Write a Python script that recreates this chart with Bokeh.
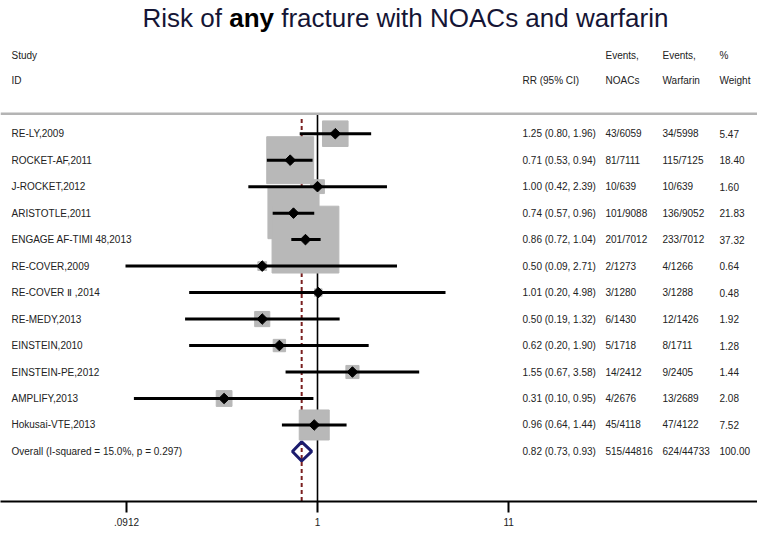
import numpy as np
from bokeh.plotting import figure
from bokeh.models import ColumnDataSource, Range1d, FixedTicker, Span, Label
from bokeh.core.properties import value
from bokeh.embed import file_html
from bokeh.resources import INLINE

# ---------------- data ----------------
studies = ["RE-LY,2009", "ROCKET-AF,2011", "J-ROCKET,2012", "ARISTOTLE,2011",
           "ENGAGE AF-TIMI 48,2013", "RE-COVER,2009", "RE-COVER \u2161 ,2014",
           "RE-MEDY,2013", "EINSTEIN,2010", "EINSTEIN-PE,2012", "AMPLIFY,2013",
           "Hokusai-VTE,2013"]
rr = [1.25, 0.71, 1.00, 0.74, 0.86, 0.50, 1.01, 0.50, 0.62, 1.55, 0.31, 0.96]
rr_lo = [0.80, 0.53, 0.42, 0.57, 0.72, 0.09, 0.20, 0.19, 0.20, 0.67, 0.10, 0.64]
rr_hi = [1.96, 0.94, 2.39, 0.96, 1.04, 2.71, 4.98, 1.32, 1.90, 3.58, 0.95, 1.44]
events_noac = ["43/6059", "81/7111", "10/639", "101/9088", "201/7012", "2/1273",
               "3/1280", "6/1430", "5/1718", "14/2412", "4/2676", "45/4118"]
events_warf = ["34/5998", "115/7125", "10/639", "136/9052", "233/7012", "4/1266",
               "3/1288", "12/1426", "8/1711", "9/2405", "13/2689", "47/4122"]
weights = [5.47, 18.40, 1.60, 21.83, 37.32, 0.64, 0.48, 1.92, 1.28, 1.44, 2.08, 7.52]

overall_label = "Overall  (I-squared = 15.0%, p = 0.297)"
overall_rr, overall_lo, overall_hi = 0.82, 0.73, 0.93
overall_noac, overall_warf, overall_weight = "515/44816", "624/44733", 100.00

tick_values = [0.0912, 1, 11]
tick_labels = [".0912", "1", "11"]

# ---------------- layout helpers ----------------
W, H = 757, 528
PX_ONE = 317.0          # frame pixel of RR = 1
PX_PER_DECADE = 183.6


def px2x(px):
    return 10 ** ((px - PX_ONE) / PX_PER_DECADE)


ROW_TOP, ROW_BOTTOM = -5.03, 13.89
n = len(studies)
rows = list(range(n))
overall_row = n

FONT = value("Liberation Sans")
TXT = "#222222"

p = figure(width=W, height=H, x_axis_type="log",
           x_range=Range1d(px2x(0), px2x(W)),
           y_range=Range1d(ROW_BOTTOM, ROW_TOP),
           output_backend="svg", toolbar_location=None,
           min_border_left=0, min_border_right=0, min_border_top=0)
p.outline_line_color = None
p.xgrid.visible = False
p.ygrid.visible = False
p.yaxis.visible = False
p.background_fill_color = "white"

ax = p.xaxis[0]
ax.ticker = FixedTicker(ticks=tick_values, minor_ticks=[])
ax.major_label_overrides = {v: l for v, l in zip(tick_values, tick_labels)}
ax.axis_line_width = 2
ax.axis_line_color = "black"
ax.major_tick_in = 0
ax.major_tick_out = 11
ax.major_tick_line_width = 2
ax.minor_tick_out = 0
ax.minor_tick_in = 0
ax.major_label_text_font = "Liberation Sans"
ax.major_label_text_font_size = "10px"
ax.major_label_text_color = TXT
ax.major_label_standoff = 5

# top separator line
top_line_row = -0.757
p.add_layout(Span(location=top_line_row, dimension="width",
                  line_color="#b4b4b4", line_width=2.5))

# null line and overall dashed line
p.segment(x0=[1], y0=[top_line_row], x1=[1], y1=[ROW_BOTTOM],
          line_color="black", line_width=1.6)
p.segment(x0=[overall_rr], y0=[top_line_row + 0.2], x1=[overall_rr], y1=[ROW_BOTTOM],
          line_color="#7a1f1f", line_width=2, line_dash="4 3")

src = ColumnDataSource(dict(
    y=rows, rr=rr, lo=rr_lo, hi=rr_hi,
    side=[10.94 * np.sqrt(w) for w in weights],
))

p.rect(x="rr", y="y", width="side", height="side", width_units="screen",
       height_units="screen", source=src, fill_color="#b8b8b8",
       line_color="#b8b8b8")
p.segment(x0="lo", y0="y", x1="hi", y1="y", source=src,
          line_color="black", line_width=3)
p.scatter(x="rr", y="y", source=src, marker="square", angle=np.pi / 4,
          size=7.5, fill_color="black", line_color="black")

# overall diamond
hd = 0.36
p.patch(x=[overall_lo, overall_rr, overall_hi, overall_rr],
        y=[overall_row, overall_row - hd, overall_row, overall_row + hd],
        fill_alpha=0, line_color="#1c1c6e", line_width=3)

# ---------------- table text ----------------
labels = studies + [overall_label]
rr_txt = [f"{a:.2f} ({b:.2f}, {c:.2f})" for a, b, c in zip(rr, rr_lo, rr_hi)]
rr_txt.append(f"{overall_rr:.2f} ({overall_lo:.2f}, {overall_hi:.2f})")
noac_txt = events_noac + [overall_noac]
warf_txt = events_warf + [overall_warf]
w_txt = [f"{w:.2f}" for w in weights] + [f"{overall_weight:.2f}"]
all_rows = rows + [overall_row]

col_px = {"label": 11, "rr": 522, "noac": 605, "warf": 662, "w": 719}


def column(px, texts, ys):
    p.text(x=[px2x(px)] * len(texts), y=ys, text=texts, text_font=FONT,
           text_font_size="10px", text_color=TXT, text_baseline="middle",
           text_align="left")


column(col_px["label"], labels, all_rows)
column(col_px["rr"], rr_txt, all_rows)
column(col_px["noac"], noac_txt, all_rows)
column(col_px["warf"], warf_txt, all_rows)
column(col_px["w"], w_txt, all_rows)

# headers
hdr1, hdr2 = -2.95, -2.0
column(col_px["label"], ["Study", "ID"], [hdr1, hdr2])
column(col_px["rr"], ["RR (95% CI)"], [hdr2])
column(col_px["noac"], ["Events,", "NOACs"], [hdr1, hdr2])
column(col_px["warf"], ["Events,", "Warfarin"], [hdr1, hdr2])
column(col_px["w"], ["%", "Weight"], [hdr1, hdr2])

# title (three pieces so that "any" can be bold)
title_row = -4.38
title_color = "#151535"
p.add_layout(Label(x=px2x(142), y=title_row, text="Risk of", text_font="Liberation Sans",
                   text_font_size="26px", text_color=title_color,
                   text_baseline="alphabetic"))
p.add_layout(Label(x=px2x(228.7), y=title_row, text="any", text_font="Liberation Sans",
                   text_font_size="26px", text_font_style="bold", text_color="black",
                   text_baseline="alphabetic"))
p.add_layout(Label(x=px2x(280.7), y=title_row, text="fracture with NOACs and warfarin",
                   text_font="Liberation Sans", text_font_size="26px",
                   text_color=title_color, text_baseline="alphabetic"))

open("out.html", "w").write(file_html(p, INLINE))
